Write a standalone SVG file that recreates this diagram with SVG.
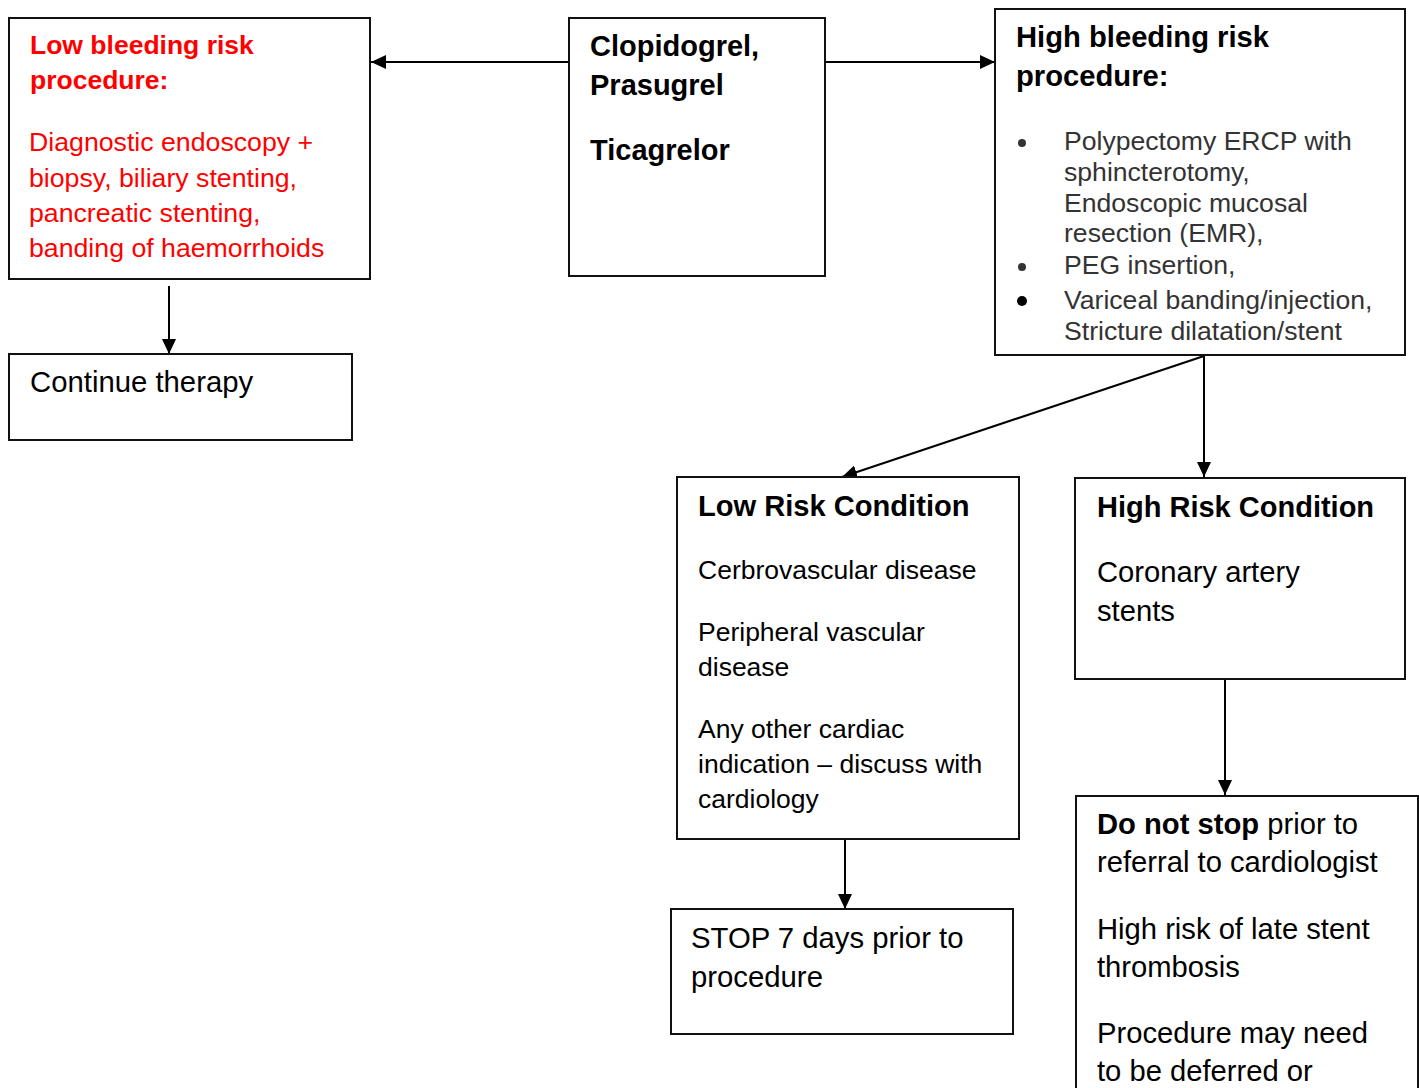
<svg xmlns="http://www.w3.org/2000/svg" width="1419" height="1088" viewBox="0 0 1419 1088">
<style>
text{font-family:"Liberation Sans",Arial,sans-serif;fill:#000}
.box{fill:#fff;stroke:#111;stroke-width:2}
.b{font-weight:bold}
.red{fill:#ff0000}
.gray{fill:#333}
.c{stroke:#000;stroke-width:2;fill:none}
</style>
<defs>
<marker id="ah" markerUnits="userSpaceOnUse" markerWidth="15" markerHeight="14" refX="15" refY="7" orient="auto">
<path d="M0,0 L15,7 L0,14 z" fill="#000"/>
</marker>
</defs>
<rect width="1419" height="1088" fill="#fff"/>
<g id="connectors">
<line class="c" x1="569" y1="62" x2="371" y2="62" marker-end="url(#ah)"/>
<line class="c" x1="825" y1="62" x2="995" y2="62" marker-end="url(#ah)"/>
<line class="c" x1="169" y1="286" x2="169" y2="354" marker-end="url(#ah)"/>
<line class="c" x1="1204" y1="356" x2="842" y2="477" marker-end="url(#ah)"/>
<line class="c" x1="1204" y1="356" x2="1204" y2="477" marker-end="url(#ah)"/>
<line class="c" x1="845" y1="839" x2="845" y2="909" marker-end="url(#ah)"/>
<line class="c" x1="1225" y1="679" x2="1225" y2="795" marker-end="url(#ah)"/>
</g>
<g id="low-bleeding">
<rect class="box" x="9" y="18" width="361" height="261"/>
<text class="b red" font-size="26.5" x="30" y="54">Low bleeding risk</text>
<text class="b red" font-size="26.5" x="30" y="89">procedure:</text>
<text class="red" font-size="26.7" x="29" y="151">Diagnostic endoscopy +</text>
<text class="red" font-size="26.7" x="29" y="187">biopsy, biliary stenting,</text>
<text class="red" font-size="26.7" x="29" y="222">pancreatic stenting,</text>
<text class="red" font-size="26.7" x="29" y="257">banding of haemorrhoids</text>
</g>
<g id="continue">
<rect class="box" x="9" y="354" width="343" height="86"/>
<text font-size="29.3" x="30" y="392">Continue therapy</text>
</g>
<g id="drugs">
<rect class="box" x="569" y="18" width="256" height="258"/>
<text class="b" font-size="29" x="590" y="56">Clopidogrel,</text>
<text class="b" font-size="29" x="590" y="95">Prasugrel</text>
<text class="b" font-size="29" x="590" y="160">Ticagrelor</text>
</g>
<g id="high-bleeding">
<rect class="box" x="995" y="9" width="410" height="346"/>
<text class="b" font-size="29.2" x="1016" y="47">High bleeding risk</text>
<text class="b" font-size="29.2" x="1016" y="86">procedure:</text>
<circle cx="1022" cy="143" r="4" fill="#333"/>
<circle cx="1022" cy="267" r="4" fill="#333"/>
<circle cx="1022" cy="301" r="5" fill="#000"/>
<text class="gray" font-size="26.6" x="1064" y="150">Polypectomy ERCP with</text>
<text class="gray" font-size="26.6" x="1064" y="181">sphincterotomy,</text>
<text class="gray" font-size="26.6" x="1064" y="212">Endoscopic mucosal</text>
<text class="gray" font-size="26.6" x="1064" y="242">resection (EMR),</text>
<text class="gray" font-size="26.6" x="1064" y="274">PEG insertion,</text>
<text class="gray" font-size="26.6" x="1064" y="309">Variceal banding/injection,</text>
<text class="gray" font-size="26.6" x="1064" y="340">Stricture dilatation/stent</text>
</g>
<g id="low-risk">
<rect class="box" x="677" y="477" width="342" height="362"/>
<text class="b" font-size="29.1" x="698" y="516">Low Risk Condition</text>
<text font-size="26.5" x="698" y="579">Cerbrovascular disease</text>
<text font-size="26.5" x="698" y="641">Peripheral vascular</text>
<text font-size="26.5" x="698" y="676">disease</text>
<text font-size="26.5" x="698" y="738">Any other cardiac</text>
<text font-size="26.5" x="698" y="773">indication – discuss with</text>
<text font-size="26.5" x="698" y="808">cardiology</text>
</g>
<g id="high-risk">
<rect class="box" x="1075" y="478" width="330" height="201"/>
<text class="b" font-size="29" x="1097" y="517">High Risk Condition</text>
<text font-size="29.2" x="1097" y="582">Coronary artery</text>
<text font-size="29.2" x="1097" y="621">stents</text>
</g>
<g id="stop">
<rect class="box" x="671" y="909" width="342" height="125"/>
<text font-size="29.3" x="691" y="948">STOP 7 days prior to</text>
<text font-size="29.3" x="691" y="987">procedure</text>
</g>
<g id="do-not-stop">
<rect class="box" x="1076" y="796" width="342" height="320"/>
<text font-size="29.2" x="1097" y="834"><tspan font-weight="bold">Do not stop</tspan> prior to</text>
<text font-size="29.2" x="1097" y="872">referral to cardiologist</text>
<text font-size="29.2" x="1097" y="939">High risk of late stent</text>
<text font-size="29.2" x="1097" y="977">thrombosis</text>
<text font-size="29.2" x="1097" y="1043">Procedure may need</text>
<text font-size="29.2" x="1097" y="1081">to be deferred or</text>
</g>
</svg>
